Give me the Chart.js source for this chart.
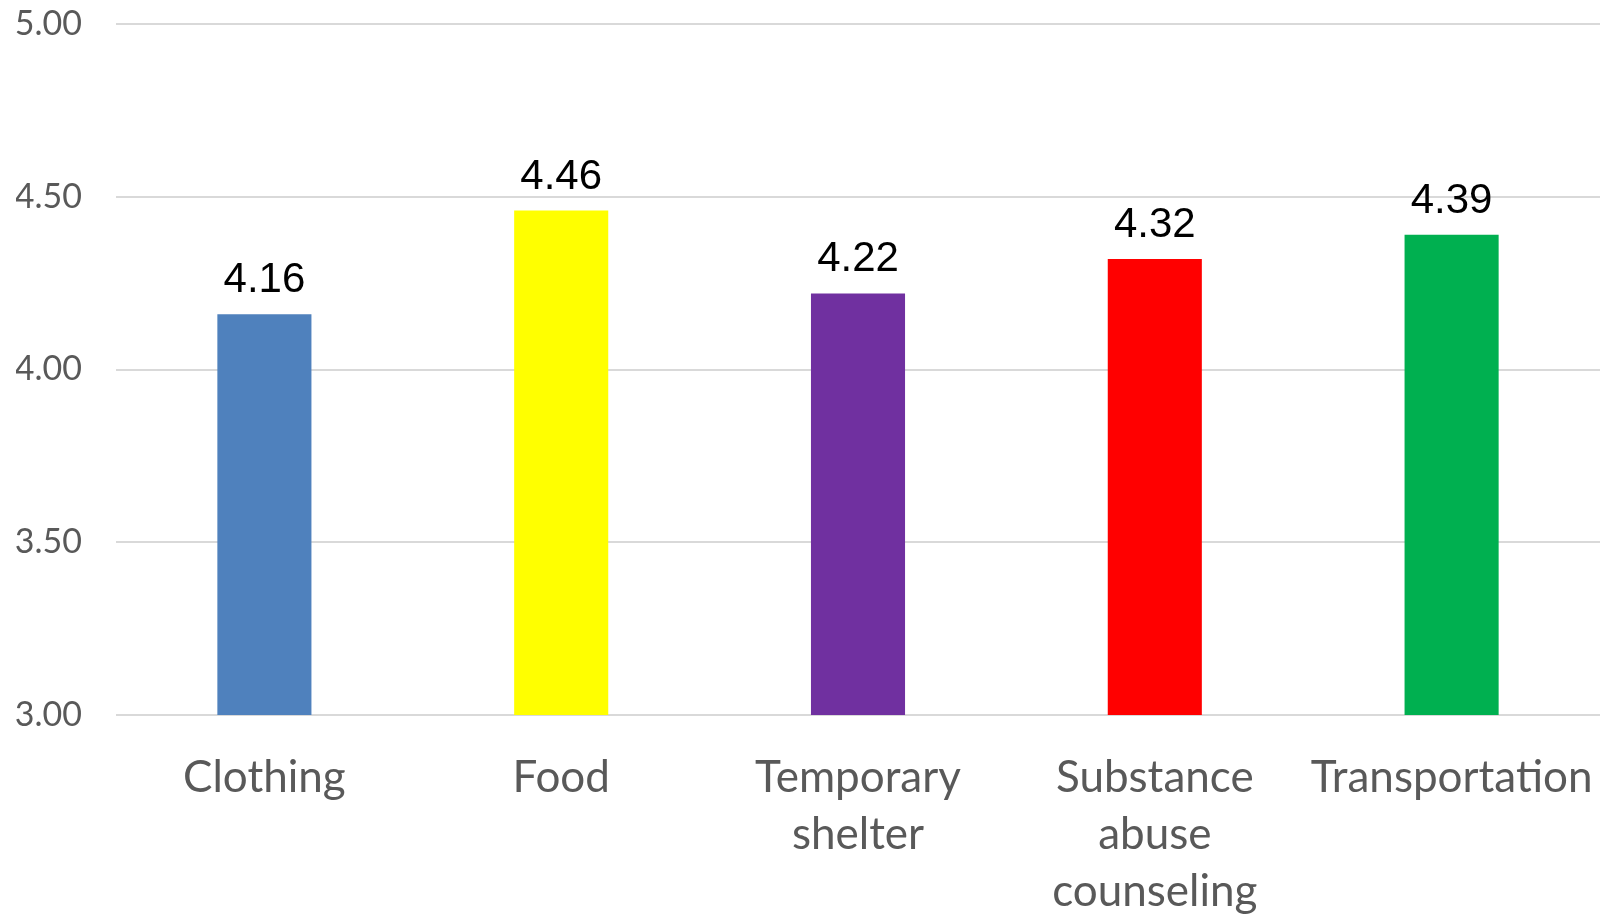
<!DOCTYPE html>
<html>
<head>
<meta charset="utf-8">
<script src="https://cdn.jsdelivr.net/npm/chart.js@4"></script>
<style>
  html, body { margin: 0; padding: 0; background: #fff; }
  #wrap { width: 1610px; height: 918px; }
</style>
</head>
<body>
<div id="wrap"><canvas id="needsChart"></canvas></div>
<script>
const categories = ['Clothing', 'Food', ['Temporary', 'shelter'], ['Substance', 'abuse', 'counseling'], 'Transportation'];
const scores = [4.16, 4.46, 4.22, 4.32, 4.39];
const barColors = ['#4F81BD', '#FFFF00', '#7030A0', '#FF0000', '#00B050'];
const yTicks = [3.0, 3.5, 4.0, 4.5, 5.0];

// draws the value above each bar
const valueLabels = {
    id: 'valueLabels',
    afterDatasetsDraw(chart) {
        const c = chart.ctx;
        const meta = chart.getDatasetMeta(0);
        c.save();
        c.font = '42px "Liberation Sans", Arial, sans-serif';
        c.fillStyle = '#000';
        c.textAlign = 'center';
        c.textBaseline = 'alphabetic';
        meta.data.forEach(function (bar, i) {
            c.fillText(scores[i].toFixed(2), bar.x, bar.y - 22);
        });
        c.restore();
    }
};

new Chart(document.getElementById('needsChart').getContext('2d'), {
    type: 'bar',
    data: {
        labels: categories,
        datasets: [{
            data: scores,
            backgroundColor: barColors,
            borderWidth: 0,
            barPercentage: 0.317,
            categoryPercentage: 1
        }]
    },
    options: {
        responsive: true,
        maintainAspectRatio: false,
        animation: false,
        layout: { padding: { left: 16, right: 10, top: 24, bottom: 0 } },
        plugins: {
            legend: { display: false },
            tooltip: { enabled: false }
        },
        scales: {
            x: {
                grid: { display: false, drawTicks: false },
                border: { display: false },
                ticks: {
                    color: '#595959',
                    font: { family: 'Lato', size: 44, lineHeight: 1.3 },
                    padding: 34,
                    maxRotation: 0,
                    autoSkip: false
                },
                afterFit: function (axis) {
                    axis.height = 203;
                    axis.paddingLeft = 0;
                    axis.paddingRight = 0;
                }
            },
            y: {
                min: 3,
                max: 5,
                afterBuildTicks: function (axis) {
                    axis.ticks = yTicks.map(function (v) { return { value: v }; });
                },
                grid: { color: '#D9D9D9', lineWidth: 2, drawTicks: false },
                border: { display: false },
                ticks: {
                    color: '#595959',
                    font: { family: 'Lato', size: 34 },
                    padding: 34,
                    callback: function (v) { return Number(v).toFixed(2); }
                },
                afterFit: function (axis) {
                    axis.width = 100;
                    axis.paddingTop = 0;
                    axis.paddingBottom = 0;
                }
            }
        }
    },
    plugins: [valueLabels]
});
</script>
</body>
</html>
